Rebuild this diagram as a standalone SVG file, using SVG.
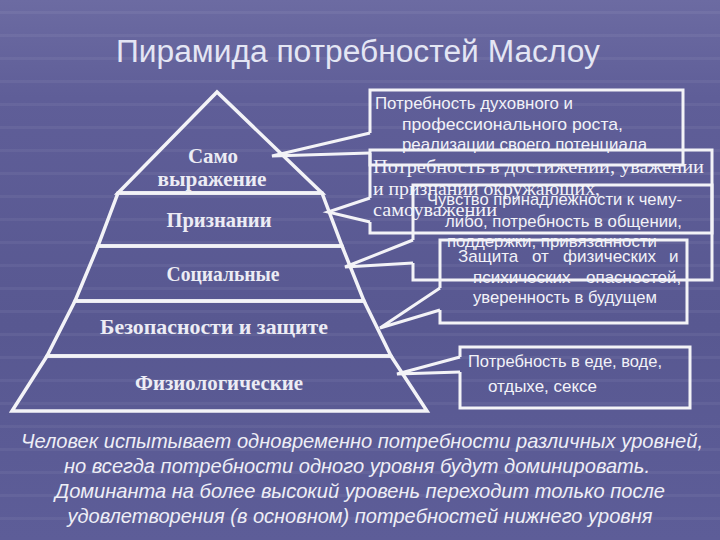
<svg xmlns="http://www.w3.org/2000/svg" width="720" height="540" viewBox="0 0 720 540">
<defs>
<linearGradient id="bg" x1="0" y1="0" x2="0" y2="1">
<stop offset="0" stop-color="#6c6ba2"/>
<stop offset="0.18" stop-color="#5f5e98"/>
<stop offset="0.6" stop-color="#585891"/>
<stop offset="1" stop-color="#5d5d98"/>
</linearGradient>
<pattern id="stripes" width="720" height="23" patternUnits="userSpaceOnUse">
<rect x="0" y="11" width="720" height="3" fill="#ffffff" opacity="0.05"/>
</pattern>
<style>
.tier{fill:none;stroke:#f3f3f7;stroke-width:3.5;stroke-linejoin:miter}
.box{fill:none;stroke:#f3f3f7;stroke-width:3}
.ptr{fill:none;stroke:#f3f3f7;stroke-width:3;stroke-linejoin:miter}
.tl{font-family:"Liberation Serif","Times New Roman",serif;font-weight:bold;font-size:21px;fill:#ececf4;text-anchor:middle}
.ss{font-family:"Liberation Sans",Arial,sans-serif;font-size:17px;fill:#f2f2f8}
.sf{font-family:"Liberation Serif","Times New Roman",serif;font-size:19px;fill:#f2f2f8}
.title{font-family:"Liberation Sans",Arial,sans-serif;font-size:31px;fill:#e4e6f4;text-anchor:middle}
.foot{font-family:"Liberation Sans Narrow","Liberation Sans",Arial,sans-serif;font-style:italic;font-size:21px;fill:#eeeef6;text-anchor:middle}
</style>
</defs>
<rect width="720" height="540" fill="url(#bg)"/>
<rect width="720" height="540" fill="url(#stripes)"/>

<text class="title" x="358" y="62" textLength="484" lengthAdjust="spacingAndGlyphs">Пирамида потребностей Маслоу</text>

<g id="pyramid">
<g id="tier-self">
<polygon class="tier" points="217,92 118,193 322,193"/>
<text class="tl" x="213" y="163" textLength="50" lengthAdjust="spacingAndGlyphs">Само</text>
<text class="tl" x="212" y="186" textLength="109" lengthAdjust="spacingAndGlyphs">выражение</text>
</g>
<g id="tier-esteem">
<polygon class="tier" points="118,193 322,193 342,246 98,246"/>
<text class="tl" x="219" y="227" textLength="105" lengthAdjust="spacingAndGlyphs">Признании</text>
</g>
<g id="tier-social">
<polygon class="tier" points="98,246 342,246 364,301 75,301"/>
<text class="tl" x="223" y="281" textLength="113" lengthAdjust="spacingAndGlyphs">Социальные</text>
</g>
<g id="tier-safety">
<polygon class="tier" points="75,301 364,301 391,356 47,356"/>
<text class="tl" x="214" y="334" textLength="228" lengthAdjust="spacingAndGlyphs">Безопасности и защите</text>
</g>
<g id="tier-physio">
<polygon class="tier" points="47,356 391,356 427,411 12,411"/>
<text class="tl" x="219" y="390" textLength="168" lengthAdjust="spacingAndGlyphs">Физиологические</text>
</g>
</g>

<g id="callout-1">
<path class="box" d="M370,153 V165 H683 V90 H370 V133"/>
<text class="ss" x="375" y="109" textLength="198" lengthAdjust="spacingAndGlyphs">Потребность духовного и</text>
<text class="ss" x="402" y="130" textLength="221" lengthAdjust="spacingAndGlyphs">профессионального роста,</text>
<text class="ss" x="402" y="150" textLength="245" lengthAdjust="spacingAndGlyphs">реализации своего потенциала</text>
</g>
<g id="callout-2">
<path class="box" d="M370,222 V233 H712 V150 H370 V198"/>
<text class="sf" x="373" y="173" textLength="331" lengthAdjust="spacingAndGlyphs">Потребность в достижении, уважении</text>
<text class="sf" x="373" y="195" textLength="227" lengthAdjust="spacingAndGlyphs">и признании окружающих,</text>
<text class="sf" x="373" y="216" textLength="124" lengthAdjust="spacingAndGlyphs">самоуважении</text>
</g>
<g id="callout-3">
<path class="box" d="M413,263 V280 H712 V185 H413 V240"/>
<text class="ss" x="427" y="205" textLength="255" lengthAdjust="spacingAndGlyphs">Чувство принадлежности к чему-</text>
<text class="ss" x="445" y="227" textLength="237" lengthAdjust="spacingAndGlyphs">либо, потребность в общении,</text>
<text class="ss" x="447" y="247" textLength="210" lengthAdjust="spacingAndGlyphs">поддержки, привязанности</text>
</g>
<g id="callout-4">
<path class="box" d="M440,310 V323 H687 V240 H440 V288"/>
<text class="ss" y="262"><tspan x="458">Защита</tspan> <tspan x="532">от</tspan> <tspan x="563">физических</tspan> <tspan x="669">и</tspan></text>
<text class="ss" y="283"><tspan x="473">психических</tspan> <tspan x="586">опасностей,</tspan></text>
<text class="ss" x="473" y="303" textLength="184" lengthAdjust="spacingAndGlyphs">уверенность в будущем</text>
</g>
<g id="callout-5">
<path class="box" d="M460,372 V408 H690 V347 H460 V357"/>
<text class="ss" x="468" y="367" textLength="194" lengthAdjust="spacingAndGlyphs">Потребность в еде, воде,</text>
<text class="ss" x="488" y="392" textLength="109" lengthAdjust="spacingAndGlyphs">отдыхе, сексе</text>
</g>

<g id="connectors">
<polyline class="ptr" points="370,133 272,156 370,153"/>
<polyline class="ptr" points="370,198 328,212 370,222"/>
<polyline class="ptr" points="413,240 345,267 413,263"/>
<polyline class="ptr" points="440,288 380,328 440,310"/>
<polyline class="ptr" points="460,357 397,374 460,372"/>
</g>

<g id="footer">
<text class="foot" x="362" y="448" textLength="682" lengthAdjust="spacingAndGlyphs">Человек испытывает одновременно потребности различных уровней,</text>
<text class="foot" x="357" y="473" textLength="586" lengthAdjust="spacingAndGlyphs">но всегда потребности одного уровня будут доминировать.</text>
<text class="foot" x="360" y="498" textLength="610" lengthAdjust="spacingAndGlyphs">Доминанта на более высокий уровень переходит только после</text>
<text class="foot" x="360" y="523" textLength="585" lengthAdjust="spacingAndGlyphs">удовлетворения (в основном) потребностей нижнего уровня</text>
</g>
</svg>
